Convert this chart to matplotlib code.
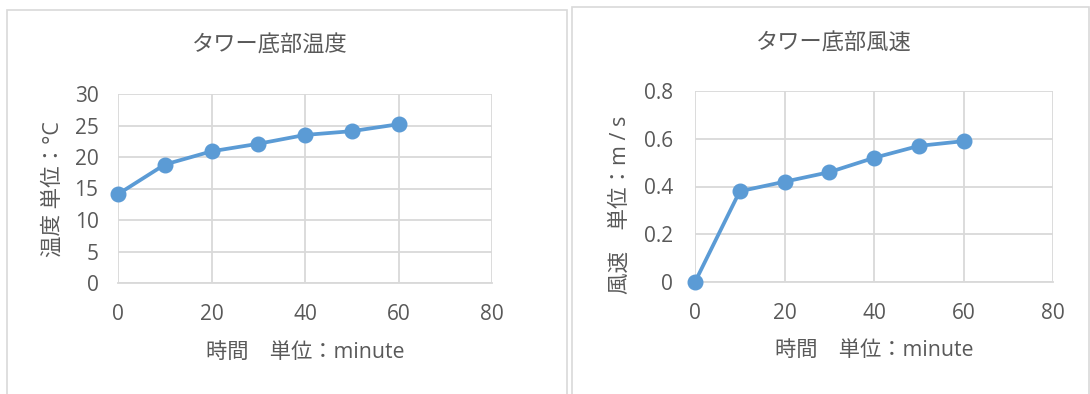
import matplotlib.pyplot as plt
from matplotlib.patches import Rectangle

plt.rcParams['font.family'] = ['Open Sans', 'Noto Sans CJK JP', 'DejaVu Sans']

# ------------------------------------------------------------
# Data
# ------------------------------------------------------------
minutes = [0, 10, 20, 30, 40, 50, 60]
temperature = [14.1, 18.8, 20.9, 22.1, 23.5, 24.1, 25.2]
wind_speed = [0, 0.38, 0.42, 0.46, 0.52, 0.57, 0.59]

temp_ticks = [0, 5, 10, 15, 20, 25, 30]
wind_ticks = [0, 0.2, 0.4, 0.6, 0.8]
wind_tick_labels = ["0", "0.2", "0.4", "0.6", "0.8"]
x_ticks = [0, 20, 40, 60, 80]

LINE = "#5B9BD5"
GRID = "#D9D9D9"
TEXT = "#595959"

W, H = 1090, 394
fig = plt.figure(figsize=(W / 100, H / 100), dpi=100)


def px_axes(x0, y0, x1, y1):
    # pixel box (top-left origin) -> figure fraction axes
    return fig.add_axes([x0 / W, 1 - y1 / H, (x1 - x0) / W, (y1 - y0) / H])


# panel frames
for (x0, y0, x1) in [(7, 10, 567), (572, 7, 1089)]:
    fig.patches.append(Rectangle((x0 / W, -0.05), (x1 - x0) / W, 1.05 - y0 / H,
                                 transform=fig.transFigure, fill=False,
                                 edgecolor=GRID, linewidth=1.2))


def style(ax, yticks, ylabels, ymax, ypad):
    ax.set_xlim(0, 80)
    ax.set_ylim(0, ymax)
    ax.set_xticks(x_ticks)
    ax.set_yticks(yticks)
    ax.set_yticklabels(ylabels)
    ax.grid(True, color=GRID, linewidth=1.3)
    ax.set_axisbelow(True)
    for s in ax.spines.values():
        s.set_visible(False)
    ax.spines['bottom'].set_visible(True)
    ax.spines['bottom'].set_color(GRID)
    ax.spines['bottom'].set_linewidth(1.3)
    ax.tick_params(length=0, labelsize=15, colors=TEXT)
    ax.tick_params(axis='x', pad=15)
    ax.tick_params(axis='y', pad=ypad)


# left chart: temperature
ax1 = px_axes(118, 94, 492, 283)
ax1.plot(minutes, temperature, color=LINE, linewidth=2.7,
         marker="o", markersize=10.5, clip_on=False, zorder=3)
style(ax1, temp_ticks, [str(t) for t in temp_ticks], 30, 14)
fig.text(270 / W, 1 - 45 / H, "タワー底部温度", ha="center", va="center",
         fontsize=16, color=TEXT, family=['Noto Sans CJK JP'])
fig.text(53 / W, 1 - 189 / H, "温度 単位：°C", ha="center", va="center",
         rotation=90, fontsize=15.5, color=TEXT)
fig.text(305 / W, 1 - 352 / H, "時間　単位：minute", ha="center", va="center",
         fontsize=15.3, color=TEXT)

# right chart: wind speed
ax2 = px_axes(695, 91, 1053, 282)
ax2.plot(minutes, wind_speed, color=LINE, linewidth=2.7,
         marker="o", markersize=10.5, clip_on=False, zorder=3)
style(ax2, wind_ticks, wind_tick_labels, 0.8, 16)
fig.text(834 / W, 1 - 43 / H, "タワー底部風速", ha="center", va="center",
         fontsize=16, color=TEXT, family=['Noto Sans CJK JP'])
fig.text(620 / W, 1 - 205 / H, "風速　単位：m / s", ha="center", va="center",
         rotation=90, fontsize=15.5, color=TEXT)
fig.text(874 / W, 1 - 350 / H, "時間　単位：minute", ha="center", va="center",
         fontsize=15.3, color=TEXT)

fig.savefig("out.png", dpi=100)
